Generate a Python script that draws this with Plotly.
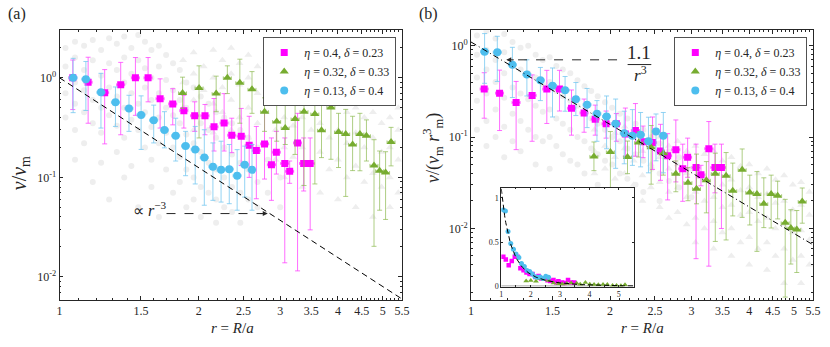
import numpy as np
import plotly.graph_objects as go

SERIF = "Liberation Serif"
INK = "#262626"
MAGENTA, GREEN, BLUE = "#ff00ff", "#77ac30", "#4dbeee"
MAGENTA_BAR, GREEN_BAR, BLUE_BAR = "rgba(255,60,255,0.75)", "rgba(140,185,80,0.7)", "rgba(120,200,240,0.8)"
CLOUD = "#eeeeee"
W, H = 830, 347

# ---- data ----
# eta = 0.4, delta = 0.23 (magenta squares)
mag_r = [1.068, 1.153, 1.252, 1.356, 1.459, 1.554, 1.650, 1.757, 1.857, 1.960, 2.063, 2.158, 2.269,
         2.357, 2.471, 2.571, 2.664, 2.775, 2.872, 2.943, 3.069, 3.145, 3.271, 3.372, 3.483]
mag_a = [1.0, 0.903, 0.71, 0.852, 1.0, 1.0, 0.617, 0.547, 0.468, 0.416, 0.416, 0.322, 0.351,
         0.265, 0.259, 0.21, 0.186, 0.217, 0.134, 0.179, 0.138, 0.115, 0.222, 0.138, 0.138]
mag_a_hi = [1.51, 1.61, 1.21, 1.43, 1.60, 1.60, 0.977, 0.778, 0.668, 0.574, 0.54, 0.62, 0.694,
            0.393, 0.493, 0.411, 0.325, 0.457, 0.249, 0.29, 0.249, 0.146, 0.44, 0.249, 0.249]
mag_a_lo = [0.48, 0.35, 0.217, 0.268, 0.42, 0.574, 0.313, 0.337, 0.313, 0.29, 0.268, 0.184, 0.184,
            0.177, 0.1315, 0.10, 0.061, 0.0962, 0.0588, 0.108, 0.01386, 0.0872, 0.0115, 0.073, 0.0297]
mag_b = [0.336, 0.303, 0.239, 0.286, 0.336, 0.336, 0.207, 0.184, 0.157, 0.140, 0.140, 0.108, 0.118,
         0.089, 0.087, 0.0706, 0.0625, 0.0729, 0.045, 0.0601, 0.0464, 0.0386, 0.0746, 0.0464, 0.0464]
mag_b_hi = [0.507, 0.541, 0.407, 0.48, 0.538, 0.538, 0.328, 0.261, 0.224, 0.193, 0.181, 0.208, 0.233,
            0.132, 0.166, 0.138, 0.109, 0.154, 0.0837, 0.0974, 0.0837, 0.0491, 0.148, 0.0837, 0.0837]
mag_b_lo = [0.161, 0.118, 0.0729, 0.09, 0.141, 0.193, 0.105, 0.113, 0.105, 0.0974, 0.09, 0.0618, 0.0618,
            0.0595, 0.0442, 0.0336, 0.0205, 0.0323, 0.0198, 0.0363, 0.00466, 0.0293, 0.00386, 0.0245, 0.00998]

# eta = 0.32, delta = 0.33 (green triangles)
grn_r = [1.845, 2.003, 2.181, 2.306, 2.454, 2.607, 2.775, 2.948, 3.076, 3.231, 3.378, 3.565,
         3.685, 3.862, 4.011, 4.157, 4.302, 4.462, 4.609, 4.786, 4.922, 5.07, 5.21]
grn_a = [0.706, 0.791, 0.695, 1.0, 0.892, 0.766, 0.457, 0.364, 0.313, 0.386, 0.457, 0.433,
         0.297, 0.505, 0.285, 0.273, 0.214, 0.273, 0.262, 0.132, 0.1165, 0.112, 0.227]
grn_a_hi = [1.016, 1.32, 1.04, 1.32, 1.54, 1.155, 0.63, 0.532, 0.748, 0.62, 0.766, 0.778,
            0.596, 0.852, 0.44, 0.482, 0.411, 0.44, 0.378, 0.239, 0.184, 0.181, 0.318]
grn_a_lo = [0.493, 0.249, 0.457, 0.695, 0.35, 0.44, 0.29, 0.231, 0.214, 0.17, 0.0828, 0.0859,
            0.158, 0.152, 0.1256, 0.0644, 0.117, 0.1165, 0.146, 0.0203, 0.0468, 0.0378, 0.1305]
grn_b = [0.0614, 0.0688, 0.0605, 0.087, 0.0776, 0.0666, 0.0398, 0.0317, 0.0272, 0.0336, 0.0398, 0.0377,
         0.0258, 0.0439, 0.0248, 0.0238, 0.0186, 0.0238, 0.0228, 0.0115, 0.0101, 0.00974, 0.0197]
grn_b_hi = [0.0884, 0.115, 0.0905, 0.115, 0.134, 0.1005, 0.0548, 0.0463, 0.0651, 0.0539, 0.0666, 0.0677,
            0.0519, 0.0741, 0.0383, 0.0419, 0.0358, 0.0383, 0.0329, 0.0208, 0.016, 0.0157, 0.0277]
grn_b_lo = [0.0429, 0.0217, 0.0398, 0.0605, 0.0305, 0.0383, 0.0252, 0.0201, 0.0186, 0.0148, 0.0072, 0.00747,
            0.0137, 0.0132, 0.0109, 0.0056, 0.0102, 0.0101, 0.0127, 0.00177, 0.00407, 0.00329, 0.0114]

# eta = 0.13, delta = 0.4 (blue circles)
blu_r = [1.07, 1.14, 1.229, 1.321, 1.413, 1.501, 1.598, 1.686, 1.783, 1.873, 1.965, 2.056,
         2.146, 2.235, 2.328, 2.421, 2.514, 2.607]
blu_a = [1.0, 0.97, 0.715, 0.568, 0.493, 0.424, 0.375, 0.299, 0.262, 0.207, 0.191, 0.158,
         0.128, 0.119, 0.121, 0.104, 0.134, 0.119]
blu_a_hi = [1.57, 1.46, 1.11, 0.81, 0.668, 0.659, 0.532, 0.457, 0.393, 0.29, 0.325, 0.301,
            0.222, 0.231, 0.214, 0.19, 0.206, 0.214]
blu_a_lo = [0.447, 0.47, 0.313, 0.325, 0.29, 0.191, 0.222, 0.198, 0.146, 0.104, 0.0859, 0.0525,
            0.0588, 0.0565, 0.0544, 0.0468, 0.0634, 0.0468]
blu_b = [0.862, 0.849, 0.62, 0.484, 0.42, 0.366, 0.326, 0.259, 0.226, 0.18, 0.168, 0.14,
         0.11, 0.1035, 0.106, 0.09, 0.115, 0.1035]
blu_b_hi = [1.36, 1.27, 0.962, 0.702, 0.579, 0.571, 0.461, 0.396, 0.341, 0.251, 0.282, 0.261,
            0.192, 0.2, 0.186, 0.165, 0.179, 0.186]
blu_b_lo = [0.388, 0.407, 0.271, 0.282, 0.251, 0.166, 0.192, 0.172, 0.127, 0.09, 0.0745, 0.0455,
            0.051, 0.049, 0.0472, 0.0406, 0.055, 0.0406]

# raw measurements (light grey background), columns of (r, [values])
cloud_a_round = [
    (1.03, [2.0, 1.3, 0.7, 0.4]), (1.08, [2.3, 1.6, 0.9, 0.55, 0.3, 0.15]),
    (1.13, [2.1, 1.2, 0.75, 0.45, 0.22]), (1.18, [2.4, 1.5, 0.6, 0.35, 0.09]),
    (1.23, [1.9, 1.05, 0.5, 0.28, 0.14]), (1.28, [2.5, 1.4, 0.8, 0.42, 0.06]),
    (1.33, [2.2, 1.2, 0.65, 0.33, 0.18]), (1.38, [2.6, 1.6, 0.9, 0.5, 0.25, 0.1]),
    (1.43, [2.0, 1.1, 0.7, 0.38, 0.13]), (1.48, [2.7, 1.5, 0.55, 0.3, 0.05]),
    (1.53, [2.3, 1.25, 0.8, 0.45, 0.2]), (1.58, [1.9, 1.0, 0.6, 0.32, 0.15, 0.08]),
    (1.64, [2.1, 1.3, 0.7, 0.4, 0.22, 0.04]), (1.70, [1.7, 0.95, 0.5, 0.28, 0.12]),
    (1.76, [1.4, 0.75, 0.42, 0.2, 0.07]), (1.82, [1.2, 0.6, 0.35, 0.16, 0.09]),
    (1.88, [0.9, 0.5, 0.27, 0.12, 0.05]), (1.95, [0.8, 0.42, 0.22, 0.1, 0.06]),
    (2.02, [0.65, 0.35, 0.18, 0.08, 0.04]), (2.10, [0.55, 0.3, 0.14, 0.07]),
    (2.18, [0.45, 0.25, 0.12, 0.06, 0.035]), (2.27, [0.4, 0.2, 0.1, 0.05]),
    (2.36, [0.35, 0.17, 0.08, 0.045]), (2.46, [0.3, 0.14, 0.07, 0.035]),
    (2.56, [0.25, 0.12, 0.06]), (2.68, [0.2, 0.09, 0.05]), (2.82, [0.15, 0.07]), (3.0, [0.1, 0.05]),
]
cloud_a_tri = [
    (1.85, [1.5, 0.9, 0.5]), (1.95, [1.8, 1.1, 0.6, 0.3]), (2.05, [1.3, 0.75, 0.4]),
    (2.15, [1.9, 1.0, 0.55, 0.28]), (2.25, [1.5, 0.8, 0.45]), (2.35, [2.0, 1.1, 0.6, 0.3]),
    (2.45, [1.4, 0.85, 0.4]), (2.56, [1.7, 1.0, 0.5, 0.25]), (2.68, [1.3, 0.7, 0.35, 0.18]),
    (2.80, [1.5, 0.9, 0.45, 0.22]), (2.93, [1.2, 0.6, 0.3, 0.15]), (3.06, [1.4, 0.8, 0.4, 0.2, 0.1]),
    (3.2, [1.1, 0.65, 0.33, 0.16]), (3.35, [1.3, 0.75, 0.4, 0.2, 0.08]), (3.5, [1.0, 0.55, 0.3, 0.14]),
    (3.66, [1.2, 0.7, 0.35, 0.18, 0.07]), (3.83, [0.9, 0.5, 0.25, 0.12]),
    (4.0, [1.05, 0.6, 0.3, 0.15, 0.06]), (4.18, [0.8, 0.45, 0.22, 0.1]),
    (4.37, [0.95, 0.5, 0.28, 0.13, 0.05]), (4.56, [0.7, 0.4, 0.2, 0.09]),
    (4.76, [0.8, 0.45, 0.25, 0.11, 0.04]), (4.97, [0.6, 0.35, 0.18, 0.08]),
    (5.18, [0.7, 0.4, 0.2, 0.1, 0.05]), (5.4, [0.5, 0.3, 0.15, 0.07]),
]
cloud_b_round = [
    (1.03, [1.3, 0.8, 0.45, 0.25, 0.12]), (1.08, [1.45, 0.9, 0.55, 0.3, 0.15, 0.08]),
    (1.13, [1.2, 0.7, 0.4, 0.2, 0.1]), (1.18, [1.35, 0.85, 0.5, 0.27, 0.13, 0.06]),
    (1.23, [1.1, 0.6, 0.35, 0.18, 0.09]), (1.28, [0.95, 0.55, 0.3, 0.15, 0.07]),
    (1.33, [1.0, 0.5, 0.26, 0.12]), (1.38, [0.8, 0.45, 0.22, 0.1, 0.05]),
    (1.43, [0.7, 0.38, 0.19, 0.09]), (1.48, [0.75, 0.4, 0.2, 0.1, 0.045]),
    (1.53, [0.6, 0.32, 0.16, 0.08]), (1.58, [0.55, 0.28, 0.14, 0.065]),
    (1.64, [0.5, 0.25, 0.12, 0.055]), (1.70, [0.42, 0.22, 0.1, 0.05]),
    (1.76, [0.36, 0.18, 0.09, 0.04]), (1.82, [0.32, 0.16, 0.075]),
    (1.88, [0.28, 0.14, 0.065, 0.03]), (1.95, [0.24, 0.12, 0.055]),
    (2.02, [0.21, 0.1, 0.05, 0.025]), (2.10, [0.18, 0.09, 0.04]),
    (2.18, [0.16, 0.075, 0.035]), (2.27, [0.14, 0.065, 0.03]), (2.36, [0.12, 0.055, 0.025]),
    (2.46, [0.1, 0.045]), (2.56, [0.085, 0.04, 0.02]), (2.68, [0.07, 0.033]),
    (2.82, [0.06, 0.028]), (3.0, [0.045, 0.022]),
]
cloud_b_tri = [
    (1.85, [0.12, 0.07, 0.04]), (1.95, [0.14, 0.08, 0.045, 0.025]), (2.05, [0.11, 0.06, 0.035]),
    (2.15, [0.13, 0.075, 0.04, 0.02]), (2.25, [0.1, 0.055, 0.03]), (2.35, [0.12, 0.07, 0.038, 0.02]),
    (2.45, [0.09, 0.05, 0.028]), (2.56, [0.1, 0.06, 0.032, 0.017]), (2.68, [0.08, 0.045, 0.025, 0.013]),
    (2.80, [0.09, 0.05, 0.028, 0.015]), (2.93, [0.07, 0.04, 0.022, 0.011]),
    (3.06, [0.08, 0.045, 0.025, 0.013, 0.007]), (3.2, [0.065, 0.036, 0.02, 0.01]),
    (3.35, [0.07, 0.04, 0.022, 0.012, 0.006]), (3.5, [0.055, 0.03, 0.017, 0.009]),
    (3.66, [0.06, 0.034, 0.018, 0.01, 0.005]), (3.83, [0.048, 0.026, 0.014, 0.007]),
    (4.0, [0.05, 0.028, 0.015, 0.008, 0.004]), (4.18, [0.04, 0.022, 0.012, 0.006]),
    (4.37, [0.045, 0.024, 0.013, 0.007, 0.0035]), (4.56, [0.034, 0.019, 0.01, 0.005]),
    (4.76, [0.038, 0.02, 0.011, 0.006, 0.0025]), (4.97, [0.03, 0.016, 0.009, 0.0045]),
    (5.18, [0.032, 0.018, 0.0095, 0.005, 0.0025]), (5.4, [0.025, 0.014, 0.0075, 0.004]),
]

# power-law guides: v = c * r^-3
fit_a, fit_b, fit_exp = 1.0, 1.1, -3
r_fit = np.linspace(1, 5.5, 120)

x_ticks = [1, 1.5, 2, 2.5, 3, 3.5, 4, 4.5, 5, 5.5]
x_minor = [round(1 + 0.1 * i, 1) for i in range(46) if i % 5]
y_ticks = [0.01, 0.1, 1]
y_ticktext = ["10<sup>-2</sup>", "10<sup>-1</sup>", "10<sup>0</sup>"]
y_minor = [k * 10.0 ** d for d in range(-3, 1) for k in range(2, 10)]

labels = ["<i>η</i> = 0.4, <i>δ</i> = 0.23", "<i>η</i> = 0.32, <i>δ</i> = 0.33", "<i>η</i> = 0.13, <i>δ</i> = 0.4"]


def flatten(cols):
    xs, ys = [], []
    for r, vals in cols:
        xs += [r] * len(vals)
        ys += vals
    return xs, ys


def px(x):
    return x / W


def py(y):
    return 1 - y / H


def series(r, v, hi, lo, name, color, barcolor, symbol, size, xa, ya, legend):
    return go.Scatter(
        x=r, y=v, mode="markers", name=name, xaxis=xa, yaxis=ya, legend=legend,
        marker=dict(symbol=symbol, size=size, color=color, line=dict(width=0)),
        error_y=dict(type="data", symmetric=False,
                     array=[h - c for h, c in zip(hi, v)],
                     arrayminus=[c - l for c, l in zip(v, lo)],
                     color=barcolor, thickness=1, width=2.5),
        error_x=dict(type="percent", value=2, color=barcolor, thickness=1, width=1.5),
    )


fig = go.Figure()

for cols_round, cols_tri, xa, ya in [(cloud_a_round, cloud_a_tri, "x", "y"), (cloud_b_round, cloud_b_tri, "x2", "y2")]:
    cx, cy = flatten(cols_round)
    fig.add_trace(go.Scatter(x=cx, y=cy, mode="markers", xaxis=xa, yaxis=ya, showlegend=False,
                             marker=dict(symbol="circle", size=6, color=CLOUD)))
    tx, ty = flatten(cols_tri)
    fig.add_trace(go.Scatter(x=tx, y=ty, mode="markers", xaxis=xa, yaxis=ya, showlegend=False,
                             marker=dict(symbol="triangle-up", size=7, color=CLOUD)))

# panel (a)
fig.add_trace(series(mag_r, mag_a, mag_a_hi, mag_a_lo, labels[0], MAGENTA, MAGENTA_BAR, "square", 7, "x", "y", "legend"))
fig.add_trace(series(grn_r, grn_a, grn_a_hi, grn_a_lo, labels[1], GREEN, GREEN_BAR, "triangle-up", 8, "x", "y", "legend"))
fig.add_trace(series(blu_r, blu_a, blu_a_hi, blu_a_lo, labels[2], BLUE, BLUE_BAR, "circle", 8, "x", "y", "legend"))
fig.add_trace(go.Scatter(x=r_fit, y=fit_a * r_fit ** fit_exp, mode="lines", xaxis="x", yaxis="y", showlegend=False,
                         line=dict(color="black", width=1, dash="6px,4px")))

# panel (b)
fig.add_trace(series(mag_r, mag_b, mag_b_hi, mag_b_lo, labels[0], MAGENTA, MAGENTA_BAR, "square", 7, "x2", "y2", "legend2"))
fig.add_trace(series(grn_r, grn_b, grn_b_hi, grn_b_lo, labels[1], GREEN, GREEN_BAR, "triangle-up", 8, "x2", "y2", "legend2"))
fig.add_trace(series(blu_r, blu_b, blu_b_hi, blu_b_lo, labels[2], BLUE, BLUE_BAR, "circle", 8, "x2", "y2", "legend2"))
fig.add_trace(go.Scatter(x=r_fit, y=fit_b * r_fit ** fit_exp, mode="lines", xaxis="x2", yaxis="y2", showlegend=False,
                         line=dict(color="black", width=1, dash="6px,3px,1px,3px")))

# inset (linear axes)
fig.add_trace(go.Scatter(x=[1, 5.5], y=[0, 0], mode="lines", xaxis="x3", yaxis="y3", showlegend=False,
                         line=dict(color="#c8c8c8", width=3)))
for r, v, color, symbol, size in [(mag_r, mag_b, MAGENTA, "square", 4.5), (grn_r, grn_b, GREEN, "triangle-up", 5),
                                  (blu_r, blu_b, BLUE, "circle", 5)]:
    fig.add_trace(go.Scatter(x=r, y=v, mode="markers", xaxis="x3", yaxis="y3", showlegend=False,
                             marker=dict(symbol=symbol, size=size, color=color)))
fig.add_trace(go.Scatter(x=r_fit, y=fit_b * r_fit ** fit_exp, mode="lines", xaxis="x3", yaxis="y3", showlegend=False,
                         line=dict(color="black", width=1, dash="5px,3px")))

axis_style = dict(showline=True, linecolor=INK, linewidth=0.8, mirror="allticks", ticks="inside", ticklen=4,
                  tickcolor=INK, tickwidth=0.8, showgrid=False, zeroline=False,
                  tickfont=dict(family=SERIF, size=12, color=INK))
log_x = dict(axis_style, type="log", range=[0, np.log10(5.5)], tickmode="array", tickvals=x_ticks,
             minor=dict(tickmode="array", tickvals=x_minor, ticks="inside", ticklen=2, tickcolor=INK, showgrid=False))
log_y_minor = dict(tickmode="array", tickvals=y_minor, ticks="inside", ticklen=2, tickcolor=INK, showgrid=False)

top, bottom = py(30.7), py(304)
legend_style = dict(xanchor="right", yanchor="top", bgcolor="white", bordercolor=INK, borderwidth=0.8,
                    font=dict(family=SERIF, size=12, color=INK), tracegroupgap=0, itemwidth=30)
fig.update_layout(
    width=W, height=H, margin=dict(l=0, r=0, t=0, b=0, pad=0),
    paper_bgcolor="white", plot_bgcolor="white",
    xaxis=dict(log_x, domain=[px(57.3), px(404.3)], anchor="y"),
    yaxis=dict(axis_style, type="log", domain=[bottom, top], anchor="x", range=[-2.228, 0.478],
               tickmode="array", tickvals=y_ticks, ticktext=y_ticktext, minor=log_y_minor),
    xaxis2=dict(log_x, domain=[px(474.3), px(821)], anchor="y2"),
    yaxis2=dict(axis_style, type="log", domain=[bottom, top], anchor="x2", range=[-2.78, 0.17],
                tickmode="array", tickvals=y_ticks, ticktext=y_ticktext, minor=log_y_minor),
    xaxis3=dict(axis_style, domain=[px(505), px(639)], anchor="y3", range=[1, 5.5], tickvals=[1, 2, 3, 4, 5],
                ticklen=2, tickfont=dict(family=SERIF, size=8, color=INK),
                minor=dict(dtick=0.5, tick0=1, ticks="inside", ticklen=1.5, tickcolor=INK)),
    yaxis3=dict(axis_style, domain=[py(290.7), py(190.7)], anchor="x3", range=[0, 1.11], tickvals=[0, 0.5, 1],
                ticklen=2, tickfont=dict(family=SERIF, size=8, color=INK)),
    legend=dict(legend_style, x=px(397.7), y=py(37.7)),
    legend2=dict(legend_style, x=px(814.3), y=py(37.7)),
)

text_font = dict(family=SERIF, color=INK)
notes = [
    ("(a)", 14, 14, 16, 0), ("(b)", 431, 14, 16, 0),
    ("<i>v</i>/<i>v</i><sub>m</sub>", 18, 176, 20, -90),
    ("<i>v</i>/(<i>v</i><sub>m</sub> <i>r</i><sup>3</sup><sub>m</sub>)", 436, 150, 18, -90),
    ("<i>r</i> = <i>R</i>/<i>a</i>", 233, 333, 15, 0), ("<i>r</i> = <i>R</i>/<i>a</i>", 648, 333, 15, 0),
    ("1.1", 645, 53, 19, 0), ("<i>r</i><sup>3</sup>", 646, 75, 17, 0),
]
for text, x, y, size, angle in notes:
    fig.add_annotation(text=text, x=px(x), y=py(y), xref="paper", yref="paper", showarrow=False,
                       xanchor="center", yanchor="middle", textangle=angle, font=dict(text_font, size=size))
fig.add_annotation(text="∝ <i>r</i><sup>−3</sup>", x=px(168), y=py(212), xref="paper", yref="paper",
                   xanchor="right", yanchor="middle", showarrow=False, font=dict(text_font, size=16))

# dashed pointers with arrowheads
fig.add_shape(type="line", xref="paper", yref="paper", x0=px(165.7), x1=px(263), y0=py(216.7), y1=py(216.7),
              line=dict(color=INK, width=1, dash="dash"))
fig.add_annotation(text="", x=px(268.3), y=py(216.7), xref="paper", yref="paper", ax=-9, ay=0,
                   showarrow=True, arrowhead=2, arrowsize=1, arrowwidth=1, arrowcolor=INK)
fig.add_shape(type="line", xref="paper", yref="paper", x0=px(622.3), x1=px(515), y0=py(60.7), y1=py(60.7),
              line=dict(color=INK, width=1, dash="dash"))
fig.add_annotation(text="", x=px(510), y=py(60.7), xref="paper", yref="paper", ax=9, ay=0,
                   showarrow=True, arrowhead=2, arrowsize=1, arrowwidth=1, arrowcolor=INK)
fig.add_shape(type="line", xref="paper", yref="paper", x0=px(633), x1=px(657), y0=py(65.5), y1=py(65.5),
              line=dict(color=INK, width=1))

fig.write_html("out.html", config={"displayModeBar": False},
               post_script="document.body.style.margin='0';document.body.style.overflow='hidden';")
